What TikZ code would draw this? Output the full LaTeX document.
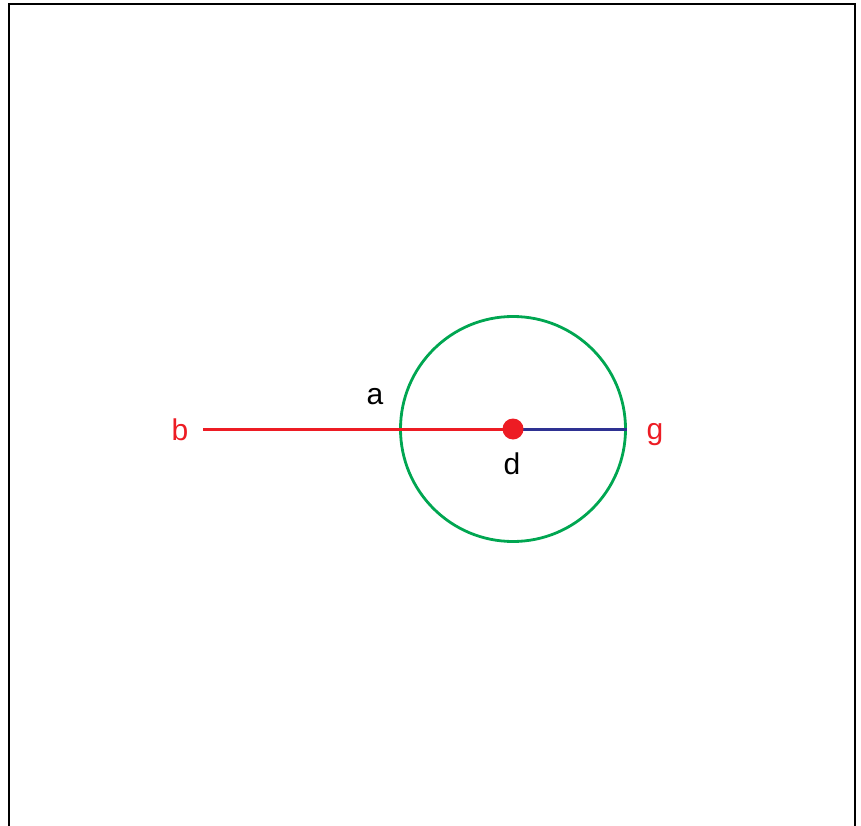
\documentclass[tikz,border=0pt]{standalone}
\usepackage{fontspec}
\setmainfont{Liberation Sans}
\usetikzlibrary{positioning}
\definecolor{pinred}{HTML}{ED1C24}
\definecolor{ringgreen}{HTML}{00A651}
\definecolor{rodblue}{HTML}{2E3192}

\begin{document}
\begin{tikzpicture}[x=1pt,y=-1pt,font=\fontsize{30}{36}\selectfont,line width=2.8pt]
  \useasboundingbox (0,0) rectangle (861,826);
  \draw[line width=2.6pt] (9,826)--(9,4)--(855,4)--(855,826);
  \node[circle,draw=ringgreen,minimum size=225pt,inner sep=0pt] (ring) at (513,429) {};
  \coordinate (d) at (513,429);
  \coordinate (start) at (203,429);
  \draw[pinred,line width=3pt] (start)--(d);
  \draw[rodblue,line width=3pt] (d)--(ring.east);
  \fill[pinred] (d) circle (10.5);
  \node[text=pinred] (lb) at (180,430) {b};
  \node (la) at (375,397) {a};
  \node (ld) at (512,464) {d};
  \node[text=pinred] (lg) at (655,435) {g};
\end{tikzpicture}
\end{document}
